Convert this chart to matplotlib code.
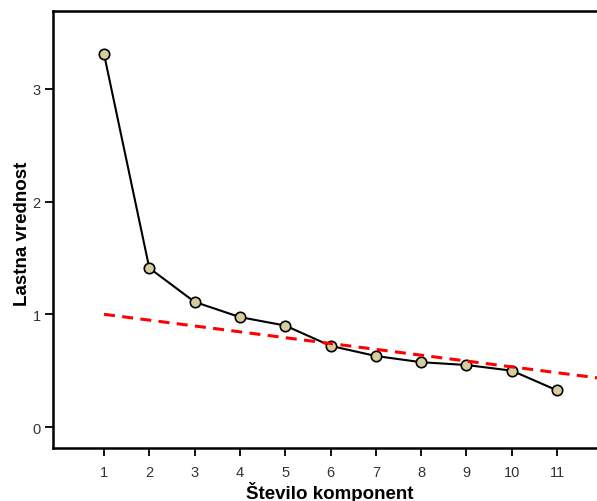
import matplotlib
matplotlib.use('Agg')
import matplotlib.pyplot as plt

# eigenvalues (scree plot)
components = [1, 2, 3, 4, 5, 6, 7, 8, 9, 10, 11]
eigenvalues = [3.31, 1.41, 1.11, 0.975, 0.90, 0.72, 0.63, 0.575, 0.55, 0.50, 0.325]

# reference (dashed) line
ref_x = [1, 12]
ref_y = [1.0, 0.43]

x_ticks = [1, 2, 3, 4, 5, 6, 7, 8, 9, 10, 11]
y_ticks = [0, 1, 2, 3]

plt.rcParams['font.family'] = ['Liberation Sans', 'DejaVu Sans']

fig = plt.figure(figsize=(5.97, 5.02), dpi=100)
ax = fig.add_axes([0.0888, 0.1056, 0.9112, 0.8704])

ax.plot(components, eigenvalues, color='black', lw=1.5, marker='o', ms=7.5,
        markerfacecolor='#d6cd9c', markeredgecolor='black', markeredgewidth=1.2,
        zorder=2)
ax.plot(ref_x, ref_y, color='#ff0000', lw=2.2, dashes=(3.6, 2.4), zorder=3)

ax.set_xlim(-0.125, 11.88)
ax.set_ylim(-0.186, 3.69)
ax.set_xticks(x_ticks)
ax.set_yticks(y_ticks)

for side in ['left', 'bottom', 'top']:
    ax.spines[side].set_linewidth(1.8)
ax.spines['right'].set_visible(False)

ax.tick_params(direction='out', length=6, width=1.3, labelsize=10.5,
               labelcolor='#333333', color='black', pad=6)
ax.tick_params(axis='y', pad=3)

ax.set_xlabel('Število komponent', fontsize=13.5, fontweight='bold', va='center')
ax.set_ylabel('Lastna vrednost', fontsize=13.5, fontweight='bold', va='center')
ax.xaxis.set_label_coords(0.509, -0.099)
ax.yaxis.set_label_coords(-0.057, 0.492)

fig.savefig('out.png', dpi=100)
plt.close(fig)
